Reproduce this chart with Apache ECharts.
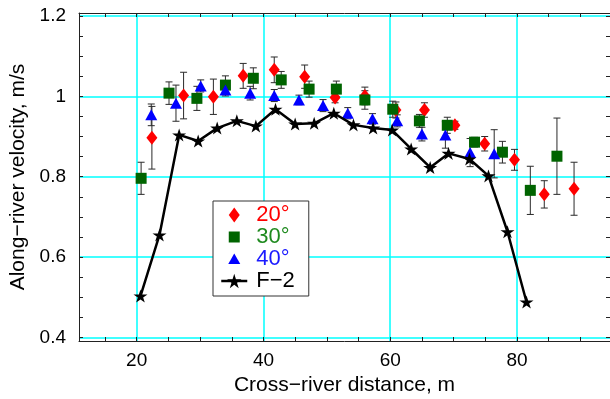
<!DOCTYPE html>
<html><head><meta charset="utf-8">
<script src="https://cdn.jsdelivr.net/npm/echarts@6/dist/echarts.min.js"></script>
<style>html,body{margin:0;padding:0;background:#fff}#c{width:610px;height:399px}</style>
</head><body><div id="c"></div>
<script>
// ---- data ----
const x20 = [22.4, 27.4, 32.1, 36.8, 41.7, 46.5, 51.3, 56.0, 60.9, 65.4, 70.2, 74.9, 79.6, 84.3, 89.0];
const v20 = [0.897, 1.002, 0.999, 1.051, 1.066, 1.049, 0.997, 1.001, 0.966, 0.966, 0.928, 0.882, 0.842, 0.756, 0.770];
const e20 = [0.078, 0.058, 0.044, 0.031, 0.032, 0.029, 0.013, 0.022, 0.020, 0.018, 0.010, 0.018, 0.026, 0.034, 0.066];

const x30 = [20.7, 25.1, 29.5, 34.0, 38.4, 42.8, 47.2, 51.5, 56.0, 60.4, 64.6, 69.0, 73.3, 77.7, 82.1, 86.3];
const v30 = [0.796, 1.008, 0.995, 1.028, 1.045, 1.041, 1.018, 1.018, 0.991, 0.968, 0.939, 0.928, 0.886, 0.861, 0.766, 0.851];
const e30 = [0.040, 0.028, 0.030, 0.023, 0.026, 0.021, 0.020, 0.020, 0.023, 0.020, 0.016, 0.020, 0.012, 0.027, 0.060, 0.095];

const x40 = [22.3, 26.2, 30.1, 34.0, 37.9, 41.7, 45.6, 49.4, 53.3, 57.2, 61.1, 65.0, 68.7, 72.6, 76.4];
const v40 = [0.954, 0.983, 1.026, 1.016, 1.008, 1.002, 0.991, 0.977, 0.958, 0.944, 0.939, 0.906, 0.904, 0.860, 0.857];
const e40 = [0.027, 0.045, 0.015, 0.015, 0.017, 0.015, 0.012, 0.015, 0.014, 0.013, 0.015, 0.017, 0.033, 0.035, 0.060];

const xF = [20.6, 23.6, 26.7, 29.7, 32.7, 35.8, 38.8, 41.9, 45.0, 48.0, 51.1, 54.2, 57.3, 60.3, 63.3, 66.3, 69.2, 72.5, 75.5, 78.5, 81.5];
const vF = [0.503, 0.655, 0.904, 0.889, 0.921, 0.939, 0.926, 0.968, 0.931, 0.933, 0.958, 0.929, 0.921, 0.916, 0.869, 0.823, 0.858, 0.844, 0.802, 0.663, 0.488];

const seriesNames = ['20\u00b0', '30\u00b0', '40\u00b0', 'F\u22122'];

const xTickValues = [15, 20, 25, 30, 35, 40, 45, 50, 55, 60, 65, 70, 75, 80, 85, 90];
const xLabelValues = [20, 40, 60, 80];
const yTickValues = [0.4, 0.45, 0.5, 0.55, 0.6, 0.65, 0.7, 0.75, 0.8, 0.85, 0.9, 0.95, 1, 1.05, 1.1, 1.15, 1.2];
const yLabelValues = [0.4, 0.6, 0.8, 1, 1.2];

// ---- chart ----
const X_MIN = 10.9, X_MAX = 94.67, Y_MIN = 0.391, Y_MAX = 1.2075;
const FONT = 'Liberation Sans, Arial, Helvetica, sans-serif';
const AX = '#222';
const STAR = 'path://M0,-10 L2.245,-3.09 L9.511,-3.09 L3.633,1.18 L5.878,8.09 L0,3.82 L-5.878,8.09 L-3.633,1.18 L-9.511,-3.09 L-2.245,-3.09 Z';
// legend icons (invisible move-to points set the icon box so shapes keep their size)
const ICON_DIAMOND = 'path://M0,-9 M0,9 M0,-7.5 L5.5,0 L0,7.5 L-5.5,0 Z';
const ICON_SQUARE = 'path://M0,-9 M0,9 M-5.5,-5.5 L5.5,-5.5 L5.5,5.5 L-5.5,5.5 Z';
const ICON_TRIANGLE = 'path://M0,-9 M0,9 M0,-5.5 L6,5 L-6,5 Z';

function zip3(a, b, c) { return a.map((x, i) => c ? [x, b[i], c[i]] : [x, b[i]]); }

function errItem(params, api) {
  const x = api.value(0), v = api.value(1), e = api.value(2);
  const lo = api.coord([x, v - e]), hi = api.coord([x, v + e]);
  const hw = 3.5;
  const st = { stroke: '#2a2a2a', lineWidth: 1 };
  return { type: 'group', children: [
    { type: 'line', shape: { x1: lo[0], y1: lo[1], x2: hi[0], y2: hi[1] }, style: st },
    { type: 'line', shape: { x1: lo[0] - hw, y1: lo[1], x2: lo[0] + hw, y2: lo[1] }, style: st },
    { type: 'line', shape: { x1: hi[0] - hw, y1: hi[1], x2: hi[0] + hw, y2: hi[1] }, style: st }
  ]};
}

function errSeries(name, xs, vs, es) {
  return { type: 'custom', name: name + ' err', xAxisIndex: 0, yAxisIndex: 0, z: 2,
    renderItem: errItem, encode: { x: 0, y: 1 }, data: zip3(xs, vs, es), silent: true, clip: false };
}

const chart = echarts.init(document.getElementById('c'), null, { renderer: 'canvas' });

const tickStyle = { show: true, inside: true, length: 4, lineStyle: { color: AX, width: 1 } };

chart.setOption({
  animation: false,
  backgroundColor: '#fff',
  grid: { left: 79, right: 0, top: 13, bottom: 58, containLabel: false, outerBoundsMode: 'none' },
  legend: {
    orient: 'vertical', left: 213, top: 201,
    padding: [3, 14, 4, 7], itemGap: 0, itemWidth: 26, itemHeight: 18,
    symbolKeepAspect: true,
    backgroundColor: '#fff', borderColor: '#333', borderWidth: 1,
    textStyle: { fontSize: 22, lineHeight: 22, fontFamily: FONT, padding: [0, 0, 0, 4] },
    data: [
      { name: seriesNames[0], icon: ICON_DIAMOND, textStyle: { color: '#ff0000' } },
      { name: seriesNames[1], icon: ICON_SQUARE, textStyle: { color: '#1f8a1f' } },
      { name: seriesNames[2], icon: ICON_TRIANGLE, textStyle: { color: '#1a1aff' } },
      { name: seriesNames[3], textStyle: { color: '#000' }, lineStyle: { width: 2.5, color: '#000' } }
    ],
    selectedMode: false
  },
  xAxis: [
    { type: 'value', min: X_MIN, max: X_MAX, position: 'bottom',
      name: 'Cross\u2212river distance, m', nameLocation: 'middle', nameGap: 32,
      nameTextStyle: { fontSize: 21, color: '#000', fontFamily: FONT },
      axisLine: { show: true, onZero: false, lineStyle: { color: AX, width: 1 } },
      axisTick: Object.assign({ customValues: xTickValues }, tickStyle),
      axisLabel: { customValues: xLabelValues, fontSize: 19, color: '#000', fontFamily: FONT, margin: 10 },
      splitLine: { show: false } },
    { type: 'value', min: X_MIN, max: X_MAX, position: 'top',
      axisLine: { show: true, onZero: false, lineStyle: { color: AX, width: 1 } },
      axisTick: Object.assign({ customValues: xTickValues }, tickStyle),
      axisLabel: { show: false }, splitLine: { show: false } },
    { type: 'value', min: X_MIN, max: X_MAX, position: 'bottom',
      axisLine: { show: false }, axisTick: { show: false, customValues: xLabelValues },
      axisLabel: { show: false },
      splitLine: { show: true, lineStyle: { color: '#00ffff', width: 1.5 } } }
  ],
  yAxis: [
    { type: 'value', min: Y_MIN, max: Y_MAX, position: 'left',
      name: 'Along\u2212river velocity, m/s', nameLocation: 'middle', nameGap: 48, nameRotate: 90,
      nameTextStyle: { fontSize: 21, color: '#000', fontFamily: FONT },
      axisLine: { show: true, onZero: false, lineStyle: { color: AX, width: 1 } },
      axisTick: Object.assign({ customValues: yTickValues }, tickStyle),
      axisLabel: { customValues: yLabelValues, fontSize: 19, color: '#000', fontFamily: FONT, margin: 13,
        formatter: v => String(+(+v).toFixed(2)) },
      splitLine: { show: false } },
    { type: 'value', min: Y_MIN, max: Y_MAX, position: 'right',
      axisLine: { show: true, onZero: false, lineStyle: { color: AX, width: 1 } },
      axisTick: Object.assign({ customValues: yTickValues }, tickStyle),
      axisLabel: { show: false }, splitLine: { show: false } },
    { type: 'value', min: Y_MIN, max: Y_MAX, position: 'left',
      axisLine: { show: false }, axisTick: { show: false, customValues: yLabelValues },
      axisLabel: { show: false },
      splitLine: { show: true, lineStyle: { color: '#00ffff', width: 1.5 } } }
  ],
  series: [
    errSeries(seriesNames[0], x20, v20, e20),
    errSeries(seriesNames[1], x30, v30, e30),
    errSeries(seriesNames[2], x40, v40, e40),
    { type: 'scatter', name: seriesNames[0], z: 3, data: zip3(x20, v20), symbol: 'diamond', symbolSize: [11, 14],
      itemStyle: { color: '#ff0000', opacity: 1 } },
    { type: 'scatter', name: seriesNames[1], z: 3, data: zip3(x30, v30), symbol: 'rect', symbolSize: [11, 11],
      itemStyle: { color: '#006400', opacity: 1 } },
    { type: 'scatter', name: seriesNames[2], z: 3, data: zip3(x40, v40), symbol: 'triangle', symbolSize: [12, 11],
      itemStyle: { color: '#0000ff', opacity: 1 } },
    { type: 'line', name: seriesNames[3], z: 4, data: zip3(xF, vF), symbol: STAR, symbolSize: [14, 13],
      showAllSymbol: true, lineStyle: { color: '#000', width: 2.5 }, itemStyle: { color: '#000' } }
  ]
});
</script>
</body></html>
